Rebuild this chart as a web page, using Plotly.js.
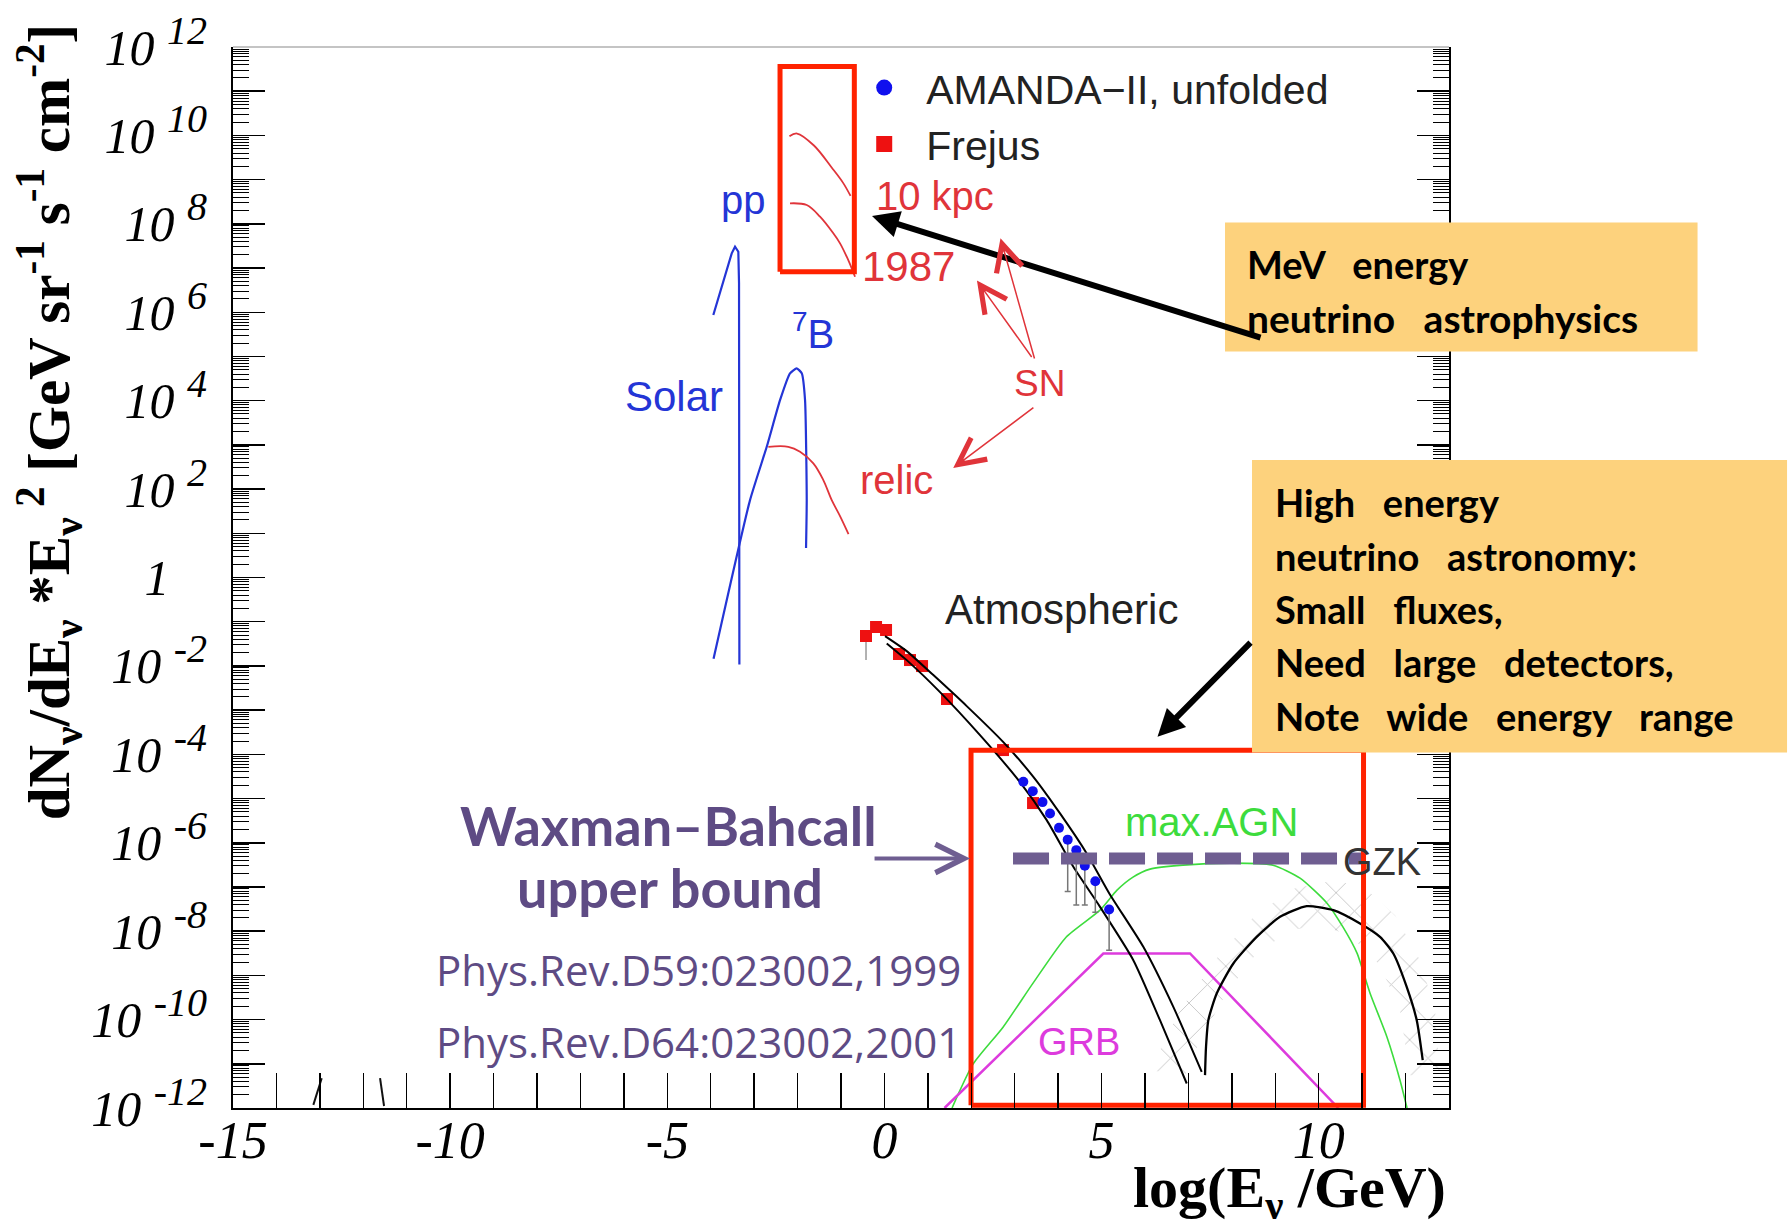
<!DOCTYPE html>
<html><head><meta charset="utf-8">
<script src="https://cdn.plot.ly/plotly-3.0.1.min.js"></script>
<style>html,body{margin:0;padding:0;background:#fff;} #chart{width:1790px;height:1227px;}</style>
</head><body><div id="chart"></div>
<script>
// All x values: log10(E/GeV); all y values: log10 of flux
const ppX = [-3.940,-3.785,-3.631,-3.516,-3.440,-3.364,-3.348,-3.340];
const ppY = [5.937,6.428,6.955,7.333,7.482,7.369,6.661,-1.968];
const b7X = [-3.935,-3.095,-2.710,-2.404,-2.174,-2.019,-1.904,-1.828,-1.789,-1.805];
const b7Y = [-1.840,1.751,2.957,4.011,4.618,4.731,4.618,4.011,1.751,0.665];
const sn10kpcX = [-2.187,-2.012,-1.623,-1.211,-0.955,-0.780];
const sn10kpcY = [9.982,10.043,9.772,9.269,8.932,8.631];
const sn1987X = [-2.174,-1.789,-1.483,-1.177,-1.022,-0.868,-0.753,-0.677];
const sn1987Y = [8.464,8.425,8.161,7.785,7.559,7.256,6.993,6.803];
const relicX = [-2.673,-2.213,-1.943,-1.637,-1.407,-1.213,-1.022,-0.827];
const relicY = [2.957,2.957,2.844,2.581,2.204,1.751,1.389,0.982];
const frejusX = [-0.424,-0.193,0.037,0.336,0.589,0.866,1.441,2.731,3.422];
const frejusY = [-1.323,-1.120,-1.188,-1.731,-1.867,-2.003,-2.749,-3.903,-5.102];
const frejusLow = [-1.868,null,null,null,null,null,null,null,null];
const amandaX = [3.198,3.415,3.640,3.813,4.020,4.220,4.418,4.614,4.856,5.174];
const amandaY = [-4.622,-4.833,-5.081,-5.337,-5.663,-5.930,-6.167,-6.518,-6.869,-7.509];
const amandaLow = [null,null,null,null,null,-7.10,-7.41,-7.41,-7.57,-8.43];
const atmLoX = [0.053,0.513,1.280,2.201,3.122,3.737,4.350,4.964,5.731,6.345,6.961];
const atmLoY = [-1.491,-1.869,-2.593,-3.566,-4.629,-5.489,-6.545,-7.450,-8.656,-10.014,-11.446];
const atmHiX = [0.014,0.513,1.126,1.895,2.738,3.429,4.043,4.658,5.178,5.961,6.652,7.306];
const atmHiY = [-1.326,-1.665,-2.208,-2.909,-3.724,-4.509,-5.337,-6.242,-7.147,-8.355,-9.713,-11.183];
const agnX = [1.557,2.040,2.731,3.422,4.182,4.964,5.356,5.724,6.116,6.876,8.027,8.948,9.570,10.191,10.560,10.882,11.182,11.573,11.872,12.034];
const agnY = [-12,-11.009,-10.172,-9.176,-8.136,-7.525,-7.072,-6.778,-6.597,-6.507,-6.462,-6.507,-6.801,-7.367,-7.910,-8.498,-9.403,-10.398,-11.371,-12];
const grbX = [1.384,5.040,7.037,10.45];
const grbY = [-12,-8.505,-8.505,-12];
const gzkX = [7.382,7.405,7.458,7.651,8.034,8.572,9.109,9.724,10.336,10.951,11.411,11.718,12.026,12.257,12.395];
const gzkY = [-11.256,-10.618,-10.014,-9.410,-8.731,-8.129,-7.676,-7.434,-7.525,-7.826,-8.129,-8.505,-9.260,-10.014,-10.919];
const hatchX = [6.116,6.806,7.612,8.533,9.454,10.375,11.066,11.757,12.332,12.678,12.793,12.102,11.872,11.411,10.720,10.029,9.339,8.533,7.843,7.267,6.922,6.116];
const hatchY = [-11.145,-9.787,-8.656,-7.638,-7.027,-6.846,-7.027,-7.638,-8.656,-9.787,-11.258,-11.258,-9.787,-8.769,-8.090,-7.864,-7.977,-8.542,-9.448,-10.466,-11.258,-11.145];
const wbX = [2.961,11.02];
const wbY = [-6.355,-6.355];
const fragAX = [-13.15,-12.957], fragAY = [-11.93,-11.326];
const fragBX = [-11.614,-11.522], fragBY = [-11.326,-11.955];
const rectMeVX = [-2.404,-0.693], rectMeVY = [6.916,11.559];
const rectHEX = [1.994,11.032], rectHEY = [-11.937,-3.905];
const xTickVals = [-15,-10,-5,0,5,10];
const xTickText = ['-15','-10','-5','0','5','10'];
const yDecades = []; for (let n=-12;n<=12;n++) yDecades.push(n);

const p10 = a => a.map(v => v === null ? null : Math.pow(10, v));
const BLUE='#2435d6', RED='#e0343a', GREEN='#3ddc3d', MAG='#dd3bdd', PURP='#6f5e91', TXTP='#5e4b84';

function ln(x, y, color, width, extra) {
  return Object.assign({type:'scatter', mode:'lines', x:x, y:p10(y), showlegend:false,
    hoverinfo:'skip', line:{color:color, width:width}}, extra||{});
}
function rect(xs, ys) {
  return {x:[xs[0],xs[1],xs[1],xs[0],xs[0]], y:[ys[0],ys[0],ys[1],ys[1],ys[0]]};
}
const rm = rect(rectMeVX, rectMeVY), rh = rect(rectHEX, rectHEY);
function minusErr(ys, lows) { return ys.map((v,i) => lows[i]===null ? 0 : Math.pow(10,v)-Math.pow(10,lows[i])); }

const traces = [
  {type:'scatter', mode:'lines', x:hatchX, y:p10(hatchY), fill:'toself', fillcolor:'rgba(0,0,0,0)',
   fillpattern:{shape:'x', fgcolor:'#c6c6c6', bgcolor:'rgba(255,255,255,0)', size:26, solidity:0.07},
   line:{width:0}, showlegend:false, hoverinfo:'skip'},
  ln(ppX, ppY, BLUE, 2.2),
  ln(b7X, b7Y, BLUE, 2.2, {line:{color:BLUE,width:2.2,shape:'spline',smoothing:0.5}}),
  ln(sn10kpcX, sn10kpcY, RED, 1.8, {line:{color:RED,width:1.8,shape:'spline'}}),
  ln(sn1987X, sn1987Y, RED, 1.8, {line:{color:RED,width:1.8,shape:'spline'}}),
  ln(relicX, relicY, RED, 1.8, {line:{color:RED,width:1.8,shape:'spline'}}),
  ln(fragAX, fragAY, '#111', 2),
  ln(fragBX, fragBY, '#111', 2),
  ln(agnX, agnY, GREEN, 1.6, {line:{color:GREEN,width:1.6,shape:'spline',smoothing:0.6}}),
  ln(grbX, grbY, MAG, 2.5),
  ln(gzkX, gzkY, '#000', 2.3, {line:{color:'#000',width:2.3,shape:'spline',smoothing:0.6}}),
  {type:'scatter', mode:'markers', x:frejusX, y:p10(frejusY), showlegend:false, hoverinfo:'skip',
   marker:{symbol:'square', size:12, color:'#ee1111'},
   error_y:{type:'data', symmetric:false, array:frejusX.map(()=>0), arrayminus:minusErr(frejusY, frejusLow), color:'#999', thickness:1.5, width:0}},
  ln(atmLoX, atmLoY, '#000', 2, {line:{color:'#000',width:2,shape:'spline',smoothing:0.6}}),
  ln(atmHiX, atmHiY, '#000', 2, {line:{color:'#000',width:2,shape:'spline',smoothing:0.6}}),
  {type:'scatter', mode:'markers', x:amandaX, y:p10(amandaY), showlegend:false, hoverinfo:'skip',
   marker:{symbol:'circle', size:10, color:'#1010ee'},
   error_y:{type:'data', symmetric:false, array:amandaX.map(()=>0), arrayminus:minusErr(amandaY, amandaLow), color:'#777', thickness:1.5, width:3}},
  ln(wbX, wbY, PURP, 12, {line:{color:PURP, width:12, dash:'36px,12px'}}),
  ln(rm.x, rm.y, '#ff2200', 5),
  ln(rh.x, rh.y, '#ff2200', 5),
  {type:'scatter', mode:'markers', x:[null], y:[null], name:'AMANDA\u2212II, unfolded', marker:{symbol:'circle', size:20, color:'#1010ee'}, showlegend:true},
  {type:'scatter', mode:'markers', x:[null], y:[null], name:'Frejus', marker:{symbol:'square', size:20, color:'#ee1111'}, showlegend:true}
];

const yTickText = yDecades.map(n => (n % 2 !== 0) ? '' : (n === 0 ? '1\u00A0\u00A0\u00A0' : '10 <sup><span style="font-size:40px">' + n + '</span></sup>'));
const yMinor = [];
for (let n=-12;n<12;n++) for (let k=2;k<=9;k++) yMinor.push(k*Math.pow(10,n));

function txt(text, x, y, size, color, family, extra) {
  return Object.assign({xref:'paper', yref:'paper', x:x, y:y, text:text, showarrow:false,
    xanchor:'center', yanchor:'middle', font:{family:family||'Liberation Sans', size:size, color:color}}, extra||{});
}
function arrow(tip, tail, color, width, head, size) {
  return {xref:'x', yref:'y', axref:'x', ayref:'y', x:tip[0], y:tip[1], ax:tail[0], ay:tail[1], text:'',
    showarrow:true, arrowcolor:color, arrowwidth:width, arrowhead:head, arrowsize:size, standoff:0};
}
const HAND = 'Lato';
const SP = ' \u00A0\u00A0';
const annotations = [
  txt('pp', 0.4202, 0.8558, 40, BLUE),
  txt('<sup>7</sup>B', 0.4770, 0.7323, 40, BLUE),
  txt('Solar', 0.3623, 0.6710, 42, BLUE),
  txt('10 kpc', 0.5777, 0.8596, 40, RED),
  txt('1987', 0.5553, 0.7929, 42, RED),
  txt('SN', 0.6632, 0.6833, 37, RED),
  txt('relic', 0.5458, 0.5919, 40, RED),
  txt('Atmospheric', 0.6817, 0.4703, 42, '#222'),
  txt('max.AGN', 0.8043, 0.2691, 40, GREEN),
  txt('GRB', 0.6957, 0.0625, 38, MAG),
  txt('GZK', 0.9449, 0.2322, 38, '#333'),
  txt('<b>Waxman\u2013Bahcall</b>', 0.3581, 0.2667, 54, TXTP, HAND),
  txt('<b>upper bound</b>', 0.3590, 0.2074, 54, TXTP, HAND),
  txt('Phys.Rev.D59:023002,1999', 0.6003, 0.1301, 42, TXTP, 'Open Sans', {xanchor:'right'}),
  txt('Phys.Rev.D64:023002,2001', 0.6003, 0.0631, 42, TXTP, 'Open Sans', {xanchor:'right'}),
  txt('<b>MeV'+SP+'energy</b>', 0.8322, 0.7952, 38, '#000', HAND, {xanchor:'left'}),
  txt('<b>neutrino'+SP+'astrophysics</b>', 0.8322, 0.7447, 39, '#000', HAND, {xanchor:'left'}),
  txt('<b>High'+SP+'energy</b>', 0.8556, 0.5712, 38, '#000', HAND, {xanchor:'left'}),
  txt('<b>neutrino'+SP+'astronomy:</b>', 0.8556, 0.5207, 38, '#000', HAND, {xanchor:'left'}),
  txt('<b>Small'+SP+'fluxes,</b>', 0.8556, 0.4703, 38, '#000', HAND, {xanchor:'left'}),
  txt('<b>Need'+SP+'large'+SP+'detectors,</b>', 0.8556, 0.4199, 38, '#000', HAND, {xanchor:'left'}),
  txt('<b>Note'+SP+'wide'+SP+'energy'+SP+'range</b>', 0.8556, 0.3695, 38, '#000', HAND, {xanchor:'left'}),
  txt('<b>dN<sub>\u03bd</sub>/dE<sub>\u03bd</sub> *E<sub>\u03bd</sub><sup> 2</sup> [GeV sr<sup>-1</sup> s<sup>-1</sup> cm<sup>-2</sup>]</b>',
      -0.1510, 0.6466, 59, '#000', 'Liberation Serif', {textangle:-90}),
  txt('<b>log(E<sub>\u03bd</sub> /GeV)</b>', 0.9992, -0.0790, 58, '#000', 'Liberation Serif', {xanchor:'right'}),
  arrow([-0.286, 8.176], [8.694, 5.416], '#000', 6, 2, 0.9),
  arrow([6.288, -3.600], [8.464, -1.439], '#000', 6, 2, 0.9),
  arrow([1.971, -6.355], [-0.262, -6.355], PURP, 4, 5, 1.4),
  arrow([2.673, 7.672], [3.465, 4.919], RED, 1.5, 5, 3.5),
  arrow([2.130, 6.717], [3.415, 4.955], RED, 1.5, 5, 3.5),
  arrow([1.584, 2.477], [3.465, 3.867], RED, 1.5, 5, 3.5)
];

const shapes = [
  {type:'line', xref:'paper', yref:'paper', x0:0, x1:1, y0:1, y1:1, line:{color:'#b0b0b0', width:1.5}},
  {type:'rect', xref:'paper', yref:'paper', x0:0.8158, x1:1.2044, y0:0.7129, y1:0.8345, fillcolor:'#fdd27d', line:{width:0}, layer:'above'},
  {type:'rect', xref:'paper', yref:'paper', x0:0.8380, x1:1.2780, y0:0.3351, y1:0.6107, fillcolor:'#fdd27d', line:{width:0}, layer:'above'}
];

const layout = {
  width:1790, height:1227,
  margin:{l:233, r:341, t:47, b:119, pad:0},
  paper_bgcolor:'#fff', plot_bgcolor:'#fff',
  showlegend:true,
  legend:{x:0.501, y:0.993, xanchor:'left', yanchor:'top', bgcolor:'rgba(0,0,0,0)', borderwidth:0,
    font:{family:'Liberation Sans', size:41, color:'#222'}, itemwidth:74, tracegroupgap:0},
  xaxis:{range:[-15,13], showgrid:false, zeroline:false, showline:true, linecolor:'#000', linewidth:2,
    ticks:'inside', ticklen:35, tickwidth:1.5, tickcolor:'#000',
    tickmode:'array', tickvals:xTickVals, ticktext:xTickText,
    tickfont:{family:'Liberation Serif', size:52, style:'italic', color:'#000'}, automargin:false,
    ticklabelstandoff:-14,
    minor:{tickmode:'linear', tick0:-15, dtick:1, ticks:'inside', ticklen:35, tickwidth:1.5, tickcolor:'#000', showgrid:false}},
  yaxis:{type:'log', range:[-12,12], showgrid:false, zeroline:false, showline:true, linecolor:'#000', linewidth:2,
    mirror:'ticks', ticks:'inside', ticklen:32, tickwidth:1.5, tickcolor:'#000',
    tickmode:'array', tickvals:p10(yDecades), ticktext:yTickText,
    tickfont:{family:'Liberation Serif', size:50, style:'italic', color:'#000'}, automargin:false,
    ticklabelstandoff:14,
    minor:{tickmode:'array', tickvals:yMinor, ticks:'inside', ticklen:16, tickwidth:1, tickcolor:'#000', showgrid:false}},
  annotations:annotations,
  shapes:shapes
};
Plotly.newPlot('chart', traces, layout, {displayModeBar:false, staticPlot:true});
</script></body></html>
